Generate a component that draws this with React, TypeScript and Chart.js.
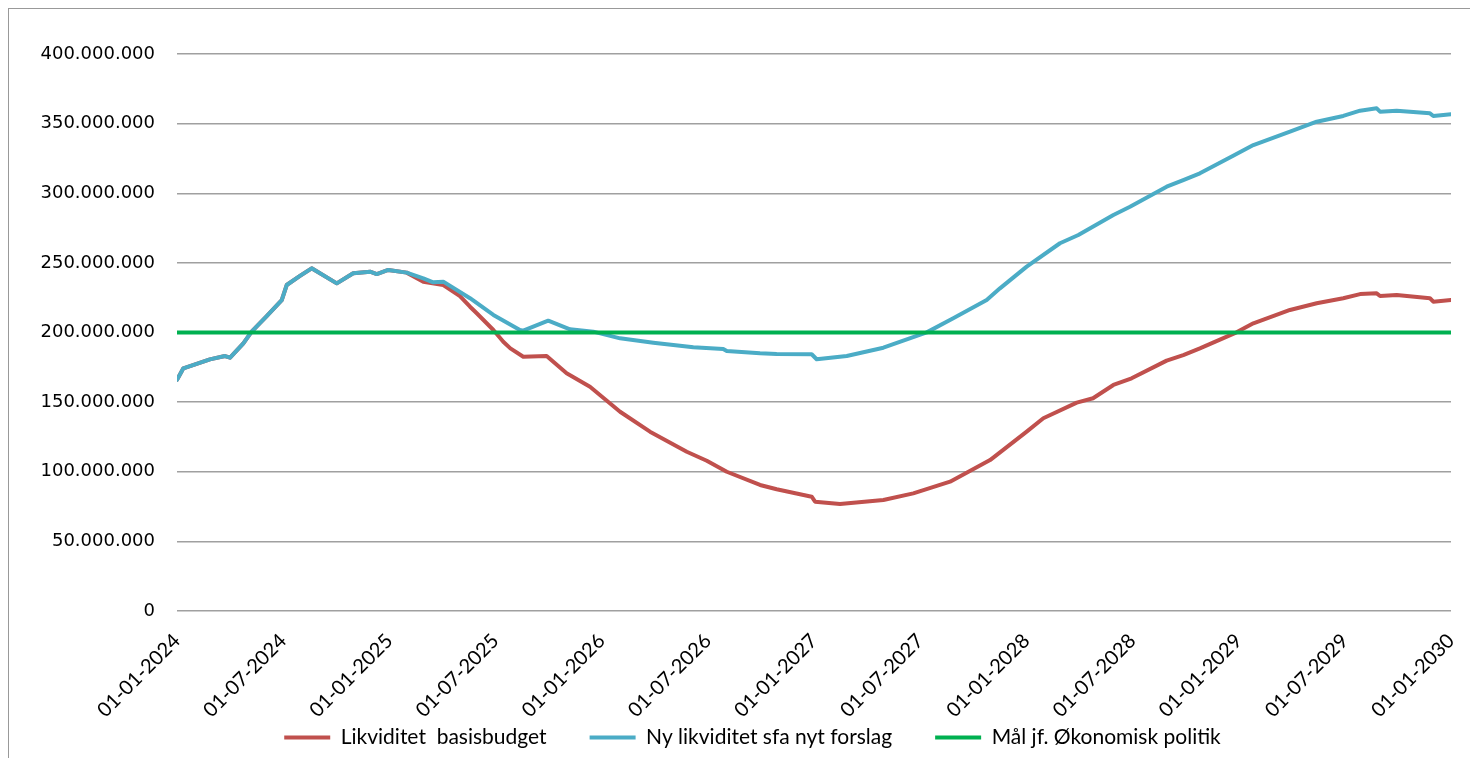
import { useEffect, useRef } from "react";
import { Chart, registerables } from "chart.js";

Chart.register(...registerables);

// Legend / series names
const seriesNames = [
  "Likviditet  basisbudget",
  "Ny likviditet sfa nyt forslag",
  "Mål jf. Økonomisk politik",
];

// X axis: months since 01-01-2024
const xTickMonths = [0, 6, 12, 18, 24, 30, 36, 42, 48, 54, 60, 66, 72];
const xTickLabels = [
  "01-01-2024", "01-07-2024", "01-01-2025", "01-07-2025", "01-01-2026",
  "01-07-2026", "01-01-2027", "01-07-2027", "01-01-2028", "01-07-2028",
  "01-01-2029", "01-07-2029", "01-01-2030",
];

// Y axis ticks (kr.)
const yTickValues = [0, 50000000, 100000000, 150000000, 200000000, 250000000, 300000000, 350000000, 400000000];

// Likviditet basisbudget (mio. kr.)
const basisMonths = [
  0, 0.36, 1.86, 2.71, 3.0, 3.75, 4.22, 5.07, 5.92, 6.2, 6.95, 7.61, 9.03, 9.96, 10.91, 11.29, 11.94, 12.98,
  13.92, 15.05, 15.99, 16.56, 16.94, 17.88, 18.44, 18.84, 19.57, 20.89, 22.02, 23.34, 25.04, 26.73, 28.81,
  29.94, 31.07, 32.95, 33.89, 35.87, 36.06, 37.47, 39.92, 41.61, 43.69, 45.95, 48.02, 48.96, 50.85, 51.77,
  52.92, 53.95, 55.93, 56.87, 57.81, 59.88, 60.83, 62.9, 64.41, 65.91, 66.86, 67.8, 67.99, 68.93, 70.81, 71.0, 72,
];
const basisValues = [
  166, 174.3, 180.7, 183.1, 181.9, 192.2, 200.6, 211.8, 223.3, 234.1, 240.6, 246.1, 235.3, 242.5, 243.7, 242.0, 244.9, 243.0,
  236.5, 234.1, 226.2, 218.5, 213.8, 201.8, 193.4, 188.6, 182.6, 183.1, 170.7, 161.1, 143.1, 128.8, 114.4,
  107.9, 100.0, 90.5, 87.4, 82.1, 78.5, 76.8, 79.7, 84.5, 92.9, 108.4, 128.8, 138.4, 149.6, 152.8,
  162.3, 167.1, 179.8, 183.8, 188.6, 200.1, 206.6, 216.2, 221.0, 224.6, 227.6, 228.1, 226.2, 226.9, 224.6, 222.1, 223.3,
];

// Ny likviditet sfa nyt forslag (mio. kr.)
const nyMonths = [
  0, 0.36, 1.86, 2.71, 3.0, 3.75, 4.22, 5.07, 5.92, 6.2, 6.95, 7.61, 9.03, 9.96, 10.91, 11.29, 11.94, 12.98,
  13.92, 14.48, 15.05, 16.56, 17.88, 19.38, 19.57, 20.98, 22.21, 23.53, 25.04, 26.92, 29.18, 30.87, 31.07,
  32.95, 33.89, 35.87, 36.15, 37.85, 39.92, 42.37, 43.87, 45.76, 46.51, 48.02, 49.9, 50.94, 52.92, 53.86,
  55.93, 56.87, 57.81, 59.69, 60.83, 62.9, 64.41, 65.91, 66.86, 67.8, 67.99, 68.93, 70.81, 71.0, 72,
];
const nyValues = [
  166, 174.3, 180.7, 183.1, 181.9, 192.2, 200.6, 211.8, 223.3, 234.1, 240.6, 246.1, 235.3, 242.5, 243.7, 242.0, 244.9, 243.0,
  238.9, 236.0, 236.5, 224.6, 212.6, 201.8, 201.3, 208.5, 202.3, 200.6, 195.8, 192.7, 189.4, 188.2, 186.7,
  185.1, 184.6, 184.4, 180.8, 183.1, 189.1, 200.1, 210.2, 223.3, 231.7, 247.3, 264.1, 270.0, 284.4, 290.3,
  304.7, 309.5, 314.3, 327.0, 334.6, 344.2, 351.4, 355.5, 359.3, 361.0, 358.6, 359.3, 357.4, 355.5, 356.7,
];

// Mål jf. Økonomisk politik (mio. kr.)
const goalMonths = [0, 72];
const goalValues = [200, 200];

const RED = "#C0504D";
const BLUE = "#4BACC6";
const GREEN = "#00B050";
const FRAME = "#999999";

const fmtDots = (v: number) => String(Math.round(v)).replace(/\B(?=(\d{3})+(?!\d))/g, ".");
const toPoints = (xs: number[], ys: number[]) => xs.map((x, i) => ({ x, y: ys[i] * 1000000 }));

// Places the legend box (centre and vertical position) after layout
const legendPlacer = {
  id: "legendPlacer",
  afterLayout(chart: any) {
    const lg = chart.legend;
    if (!lg) return;
    lg.left += 46;
    lg.width = lg.right - lg.left;
    const h = 74;
    lg.top = chart.height - h;
    lg.bottom = chart.height;
    lg.height = h;
  },
};

// Chart frame (top and left edge of the chart object)
const framePlugin = {
  id: "frame",
  beforeDraw(chart: any) {
    const ctx = chart.ctx;
    ctx.save();
    ctx.fillStyle = "#ffffff";
    ctx.fillRect(0, 0, chart.width, chart.height);
    ctx.fillStyle = FRAME;
    ctx.fillRect(0, 0, chart.width, 2);
    ctx.fillRect(0, 0, 1, chart.height);
    ctx.restore();
  },
};

export default function App() {
  const ref = useRef<HTMLCanvasElement>(null);

  useEffect(() => {
    const canvas = ref.current;
    if (!canvas) return;
    const common = {
      borderWidth: 4,
      pointRadius: 0,
      pointHoverRadius: 0,
      tension: 0,
      fill: false,
      borderCapStyle: "round" as const,
      borderJoinStyle: "round" as const,
    };
    const chart = new Chart(canvas, {
      type: "line",
      data: {
        datasets: [
          { ...common, label: seriesNames[0], data: toPoints(basisMonths, basisValues), borderColor: RED, backgroundColor: RED, order: 2 },
          { ...common, label: seriesNames[1], data: toPoints(nyMonths, nyValues), borderColor: BLUE, backgroundColor: BLUE, order: 1 },
          { ...common, label: seriesNames[2], data: toPoints(goalMonths, goalValues), borderColor: GREEN, backgroundColor: GREEN, order: 0 },
        ],
      },
      plugins: [framePlugin, legendPlacer],
      options: {
        responsive: false,
        animation: false,
        events: [],
        layout: { padding: { left: 0, right: 27, top: 47, bottom: 0 } },
        plugins: {
          tooltip: { enabled: false },
          legend: {
            position: "bottom",
            maxHeight: 27,
            labels: {
              usePointStyle: true,
              pointStyle: "line",
              pointStyleWidth: 46,
              padding: 43,
              color: "#000",
              font: { family: "Lato", size: 21 },
              sort: (a: any, b: any) => a.datasetIndex - b.datasetIndex,
            },
          },
        },
        scales: {
          x: {
            type: "linear",
            min: 0,
            max: 72,
            grid: { display: false },
            border: { display: false },
            afterBuildTicks: (s: any) => {
              s.ticks = xTickMonths.map((v) => ({ value: v }));
            },
            afterFit: (s: any) => {
              s.height = 120;
            },
            ticks: {
              autoSkip: false,
              minRotation: 45,
              maxRotation: 45,
              padding: 10,
              color: "#000",
              font: { family: "Lato", size: 20 },
              callback: (v: any) => {
                const i = xTickMonths.indexOf(Number(v));
                return i >= 0 ? xTickLabels[i] : "";
              },
            },
          },
          y: {
            min: 0,
            max: 400000000,
            afterBuildTicks: (s: any) => {
              s.ticks = yTickValues.map((v) => ({ value: v }));
            },
            afterFit: (s: any) => {
              s.width = 169;
            },
            grid: { color: "#a0a0a0", lineWidth: 1.5, drawTicks: false },
            border: { display: false },
            ticks: {
              padding: 22,
              color: "#000",
              font: { family: "DejaVu Sans", size: 18 },
              callback: (v: any) => fmtDots(Number(v)),
            },
          },
        },
      },
    });
    return () => chart.destroy();
  }, []);

  return (
    <div style={{ position: "relative", top: -1, width: 1470, height: 751 }}>
      <canvas ref={ref} width={1470} height={751} style={{ display: "block", width: 1470, height: 751 }} />
    </div>
  );
}
